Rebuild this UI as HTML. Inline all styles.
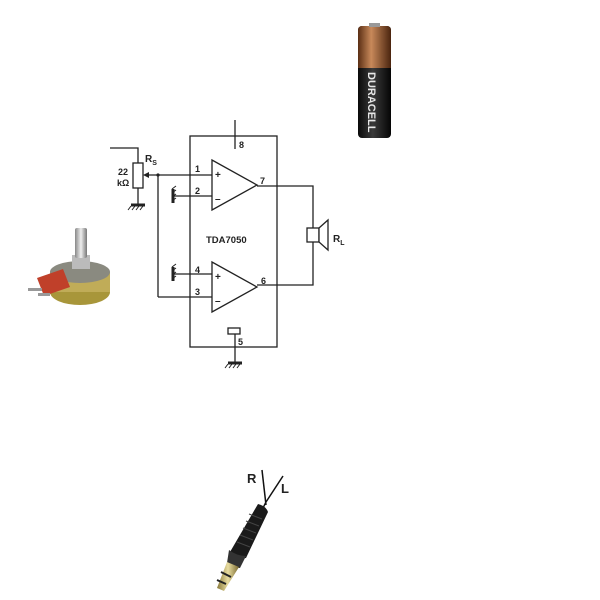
<!DOCTYPE html>
<html><head><meta charset="utf-8"><style>
html,body{margin:0;padding:0;background:#fff;width:600px;height:600px;overflow:hidden}
svg{display:block}
text{font-family:"Liberation Sans",sans-serif;font-weight:bold;fill:#222}
</style></head><body>
<svg width="600" height="600" viewBox="0 0 600 600" xmlns="http://www.w3.org/2000/svg">
<defs>
<linearGradient id="cu" x1="0" x2="1"><stop offset="0" stop-color="#5a2e14"/><stop offset="0.4" stop-color="#c8895a"/><stop offset="1" stop-color="#4a240e"/></linearGradient>
<linearGradient id="bk" x1="0" x2="1"><stop offset="0" stop-color="#0a0a0a"/><stop offset="0.45" stop-color="#3a3a3a"/><stop offset="1" stop-color="#050505"/></linearGradient>
<linearGradient id="sil" x1="0" x2="1"><stop offset="0" stop-color="#888"/><stop offset="0.5" stop-color="#eee"/><stop offset="1" stop-color="#777"/></linearGradient>
<linearGradient id="gold" x1="0" x2="1"><stop offset="0" stop-color="#8a7a3a"/><stop offset="0.5" stop-color="#e8dca0"/><stop offset="1" stop-color="#7a6a30"/></linearGradient>
<g id="gv"><rect x="-1.5" y="-7" width="3" height="14" fill="#222"/><path d="M-1,-7 l4,-3 M-1,-3 l4,-3 M-1,1 l4,-3 M-1,5 l4,-3" stroke="#222" stroke-width="1"/></g>
<g id="gh"><rect x="-7" y="-1.5" width="14" height="3" fill="#222"/><path d="M-7,1 l-3,4 M-3,1 l-3,4 M1,1 l-3,4 M5,1 l-3,4" stroke="#222" stroke-width="1"/></g>
</defs>
<g stroke="#222" stroke-width="1.3" fill="none">
<rect x="190" y="136" width="87" height="211"/>
<line x1="235" y1="120" x2="235" y2="149"/>
<polygon points="212,160 212,210 257,185" fill="#fff"/>
<polygon points="212,262 212,312 257,287" fill="#fff"/>
<line x1="145" y1="175" x2="212" y2="175"/>
<line x1="174" y1="196" x2="212" y2="196"/>
<line x1="174" y1="274" x2="212" y2="274"/>
<line x1="158" y1="175" x2="158" y2="297"/>
<line x1="158" y1="297" x2="212" y2="297"/>
<polyline points="257,186 313,186 313,285 257,285"/>
<rect x="307" y="228" width="12" height="14" fill="#fff"/>
<polygon points="319,228 328,220 328,250 319,242" fill="#fff"/>
<rect x="228" y="328" width="12" height="6"/>
<line x1="235" y1="334" x2="235" y2="362"/>
<polyline points="110,148 138,148 138,163"/>
<rect x="133" y="163" width="10" height="25" fill="#fff"/>
<line x1="138" y1="188" x2="138" y2="204"/>
</g>
<use href="#gv" x="173" y="196"/>
<use href="#gv" x="173" y="274"/>
<use href="#gh" x="235" y="363"/>
<use href="#gh" x="138" y="205"/>
<polygon points="143,175 149,172 149,178" fill="#222"/>
<circle cx="158" cy="175" r="1.6" fill="#222"/>
<g font-size="9">
<text x="239" y="148">8</text>
<text x="195" y="172">1</text>
<text x="195" y="194">2</text>
<text x="260" y="184">7</text>
<text x="195" y="273">4</text>
<text x="195" y="295">3</text>
<text x="261" y="284">6</text>
<text x="238" y="345">5</text>
</g>
<g font-size="10">
<text x="215" y="178">+</text>
<text x="215" y="202">–</text>
<text x="215" y="280">+</text>
<text x="215" y="304">–</text>
</g>
<text x="206" y="243" font-size="9.5">TDA7050</text>
<text x="333" y="242" font-size="10">R<tspan font-size="7" dy="3">L</tspan></text>
<text x="145" y="162" font-size="10">R<tspan font-size="7" dy="3">S</tspan></text>
<text x="118" y="175" font-size="9">22</text>
<text x="117" y="186" font-size="9">kΩ</text>

<rect x="358" y="26" width="33" height="112" rx="4" fill="url(#bk)"/>
<path d="M358,30 a4,4 0 0 1 4,-4 h25 a4,4 0 0 1 4,4 v38 h-33z" fill="url(#cu)"/>
<rect x="369" y="23" width="11" height="4" fill="#999"/>
<text transform="translate(368,72) rotate(90)" font-size="11" style="fill:#e8e8e8">DURACELL</text>

<ellipse cx="80" cy="292" rx="30" ry="13" fill="#a8963a"/>
<rect x="50" y="272" width="60" height="20" fill="#c0ac58"/>
<ellipse cx="80" cy="272" rx="30" ry="11" fill="#8a8a80"/>
<path d="M37,278 l26,-9 l7,18 l-26,9z" fill="#c0402a"/>
<rect x="28" y="288" width="14" height="3" fill="#999"/>
<rect x="38" y="293" width="12" height="3" fill="#999"/>
<rect x="72" y="255" width="18" height="14" fill="#bbb"/>
<rect x="75" y="228" width="12" height="30" rx="2" fill="url(#sil)"/>

<g stroke="#111" stroke-width="1.5" fill="none">
<line x1="262" y1="470" x2="266" y2="505"/>
<line x1="283" y1="476" x2="266" y2="502"/>
<line x1="266" y1="502" x2="262" y2="510"/>
</g>
<text x="247" y="483" font-size="13">R</text>
<text x="281" y="493" font-size="13">L</text>
<path d="M258,504 q8,2 10,8 l-22,46 q-9,1 -16,-6z" fill="#1a1a1a"/>
<g stroke="#444" stroke-width="1">
<line x1="249" y1="514" x2="262" y2="519"/><line x1="246" y1="521" x2="259" y2="526"/>
<line x1="243" y1="528" x2="256" y2="533"/><line x1="240" y1="535" x2="253" y2="540"/>
<line x1="237" y1="542" x2="250" y2="547"/>
</g>
<path d="M229,550 q8,6 17,6 l-6,12 q-8,0 -13,-5z" fill="#333"/>
<path d="M227,562 l12,5 l-15,24 l-7,-3z" fill="url(#gold)"/>
<line x1="221" y1="572" x2="231" y2="577" stroke="#222" stroke-width="2"/>
<line x1="217" y1="580" x2="226" y2="584" stroke="#222" stroke-width="2"/>
</svg>
</body></html>
